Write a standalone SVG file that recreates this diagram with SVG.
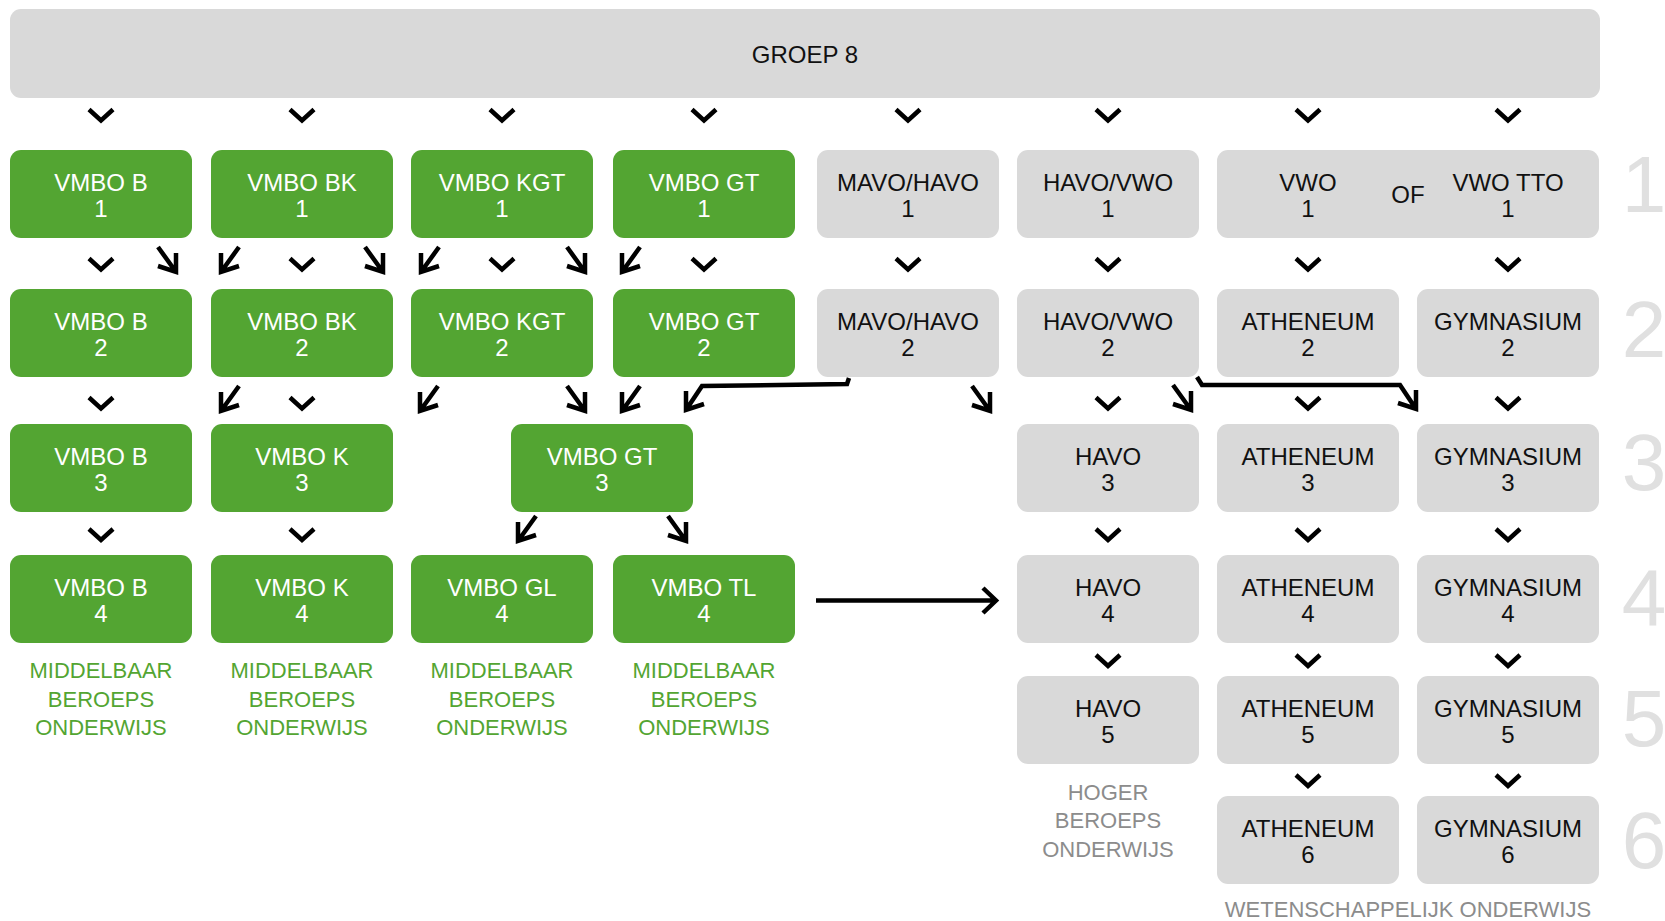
<svg xmlns="http://www.w3.org/2000/svg" xmlns:xlink="http://www.w3.org/1999/xlink" width="1665" height="921" viewBox="0 0 1665 921">
<style>
.g{fill:#53a532}
.n{fill:#d9d9d9}
text{font-family:"Liberation Sans",Arial,sans-serif;text-anchor:middle}
.tw{font-size:24px;fill:#ffffff}
.tb{font-size:24px;fill:#111111}
.lg{font-size:22px;fill:#53a532}
.lh{font-size:22px;fill:#8c8c8c}
.num{font-size:80px;fill:#e0e0e0}
.c{fill:none;stroke:#000;stroke-width:4.5;stroke-linejoin:miter;stroke-linecap:butt}
</style>
<defs>
<path id="chev" d="M-12,-5.5 L0,5.5 L12,-5.5"/>
<path id="ar" d="M-18,-25 L0,0 M0,-19 L0,0 L-18,-6"/>
<path id="al" d="M18,-25 L0,0 M0,-19 L0,0 L18,-6"/>
</defs>
<rect width="1665" height="921" fill="#ffffff"/>

<g id="groep-8"><rect class="n" x="10" y="9" width="1590" height="89" rx="11"/><text class="tb" x="805" y="63">GROEP 8</text></g>

<!-- row 1 -->
<g id="vmbo-b-1"><rect class="g" x="10" y="150" width="182" height="88" rx="11"/><text class="tw" x="101" y="191">VMBO B</text><text class="tw" x="101" y="217">1</text></g>
<g id="vmbo-bk-1"><rect class="g" x="211" y="150" width="182" height="88" rx="11"/><text class="tw" x="302" y="191">VMBO BK</text><text class="tw" x="302" y="217">1</text></g>
<g id="vmbo-kgt-1"><rect class="g" x="411" y="150" width="182" height="88" rx="11"/><text class="tw" x="502" y="191">VMBO KGT</text><text class="tw" x="502" y="217">1</text></g>
<g id="vmbo-gt-1"><rect class="g" x="613" y="150" width="182" height="88" rx="11"/><text class="tw" x="704" y="191">VMBO GT</text><text class="tw" x="704" y="217">1</text></g>
<g id="mavo-havo-1"><rect class="n" x="817" y="150" width="182" height="88" rx="11"/><text class="tb" x="908" y="191">MAVO/HAVO</text><text class="tb" x="908" y="217">1</text></g>
<g id="havo-vwo-1"><rect class="n" x="1017" y="150" width="182" height="88" rx="11"/><text class="tb" x="1108" y="191">HAVO/VWO</text><text class="tb" x="1108" y="217">1</text></g>
<g id="vwo-1"><rect class="n" x="1217" y="150" width="382" height="88" rx="11"/><text class="tb" x="1308" y="191">VWO</text><text class="tb" x="1308" y="217">1</text><text class="tb" x="1408" y="203">OF</text><text class="tb" x="1508" y="191">VWO TTO</text><text class="tb" x="1508" y="217">1</text></g>

<!-- row 2 -->
<g id="vmbo-b-2"><rect class="g" x="10" y="289" width="182" height="88" rx="11"/><text class="tw" x="101" y="330">VMBO B</text><text class="tw" x="101" y="356">2</text></g>
<g id="vmbo-bk-2"><rect class="g" x="211" y="289" width="182" height="88" rx="11"/><text class="tw" x="302" y="330">VMBO BK</text><text class="tw" x="302" y="356">2</text></g>
<g id="vmbo-kgt-2"><rect class="g" x="411" y="289" width="182" height="88" rx="11"/><text class="tw" x="502" y="330">VMBO KGT</text><text class="tw" x="502" y="356">2</text></g>
<g id="vmbo-gt-2"><rect class="g" x="613" y="289" width="182" height="88" rx="11"/><text class="tw" x="704" y="330">VMBO GT</text><text class="tw" x="704" y="356">2</text></g>
<g id="mavo-havo-2"><rect class="n" x="817" y="289" width="182" height="88" rx="11"/><text class="tb" x="908" y="330">MAVO/HAVO</text><text class="tb" x="908" y="356">2</text></g>
<g id="havo-vwo-2"><rect class="n" x="1017" y="289" width="182" height="88" rx="11"/><text class="tb" x="1108" y="330">HAVO/VWO</text><text class="tb" x="1108" y="356">2</text></g>
<g id="atheneum-2"><rect class="n" x="1217" y="289" width="182" height="88" rx="11"/><text class="tb" x="1308" y="330">ATHENEUM</text><text class="tb" x="1308" y="356">2</text></g>
<g id="gymnasium-2"><rect class="n" x="1417" y="289" width="182" height="88" rx="11"/><text class="tb" x="1508" y="330">GYMNASIUM</text><text class="tb" x="1508" y="356">2</text></g>

<!-- row 3 -->
<g id="vmbo-b-3"><rect class="g" x="10" y="424" width="182" height="88" rx="11"/><text class="tw" x="101" y="465">VMBO B</text><text class="tw" x="101" y="491">3</text></g>
<g id="vmbo-k-3"><rect class="g" x="211" y="424" width="182" height="88" rx="11"/><text class="tw" x="302" y="465">VMBO K</text><text class="tw" x="302" y="491">3</text></g>
<g id="vmbo-gt-3"><rect class="g" x="511" y="424" width="182" height="88" rx="11"/><text class="tw" x="602" y="465">VMBO GT</text><text class="tw" x="602" y="491">3</text></g>
<g id="havo-3"><rect class="n" x="1017" y="424" width="182" height="88" rx="11"/><text class="tb" x="1108" y="465">HAVO</text><text class="tb" x="1108" y="491">3</text></g>
<g id="atheneum-3"><rect class="n" x="1217" y="424" width="182" height="88" rx="11"/><text class="tb" x="1308" y="465">ATHENEUM</text><text class="tb" x="1308" y="491">3</text></g>
<g id="gymnasium-3"><rect class="n" x="1417" y="424" width="182" height="88" rx="11"/><text class="tb" x="1508" y="465">GYMNASIUM</text><text class="tb" x="1508" y="491">3</text></g>

<!-- row 4 -->
<g id="vmbo-b-4"><rect class="g" x="10" y="555" width="182" height="88" rx="11"/><text class="tw" x="101" y="596">VMBO B</text><text class="tw" x="101" y="622">4</text></g>
<g id="vmbo-k-4"><rect class="g" x="211" y="555" width="182" height="88" rx="11"/><text class="tw" x="302" y="596">VMBO K</text><text class="tw" x="302" y="622">4</text></g>
<g id="vmbo-gl-4"><rect class="g" x="411" y="555" width="182" height="88" rx="11"/><text class="tw" x="502" y="596">VMBO GL</text><text class="tw" x="502" y="622">4</text></g>
<g id="vmbo-tl-4"><rect class="g" x="613" y="555" width="182" height="88" rx="11"/><text class="tw" x="704" y="596">VMBO TL</text><text class="tw" x="704" y="622">4</text></g>
<g id="havo-4"><rect class="n" x="1017" y="555" width="182" height="88" rx="11"/><text class="tb" x="1108" y="596">HAVO</text><text class="tb" x="1108" y="622">4</text></g>
<g id="atheneum-4"><rect class="n" x="1217" y="555" width="182" height="88" rx="11"/><text class="tb" x="1308" y="596">ATHENEUM</text><text class="tb" x="1308" y="622">4</text></g>
<g id="gymnasium-4"><rect class="n" x="1417" y="555" width="182" height="88" rx="11"/><text class="tb" x="1508" y="596">GYMNASIUM</text><text class="tb" x="1508" y="622">4</text></g>

<!-- row 5 -->
<g id="havo-5"><rect class="n" x="1017" y="676" width="182" height="88" rx="11"/><text class="tb" x="1108" y="717">HAVO</text><text class="tb" x="1108" y="743">5</text></g>
<g id="atheneum-5"><rect class="n" x="1217" y="676" width="182" height="88" rx="11"/><text class="tb" x="1308" y="717">ATHENEUM</text><text class="tb" x="1308" y="743">5</text></g>
<g id="gymnasium-5"><rect class="n" x="1417" y="676" width="182" height="88" rx="11"/><text class="tb" x="1508" y="717">GYMNASIUM</text><text class="tb" x="1508" y="743">5</text></g>

<!-- row 6 -->
<g id="atheneum-6"><rect class="n" x="1217" y="796" width="182" height="88" rx="11"/><text class="tb" x="1308" y="837">ATHENEUM</text><text class="tb" x="1308" y="863">6</text></g>
<g id="gymnasium-6"><rect class="n" x="1417" y="796" width="182" height="88" rx="11"/><text class="tb" x="1508" y="837">GYMNASIUM</text><text class="tb" x="1508" y="863">6</text></g>

<!-- labels -->
<g id="label-mbo">
<text class="lg" x="101" y="678">MIDDELBAAR</text><text class="lg" x="101" y="707">BEROEPS</text><text class="lg" x="101" y="735">ONDERWIJS</text>
<text class="lg" x="302" y="678">MIDDELBAAR</text><text class="lg" x="302" y="707">BEROEPS</text><text class="lg" x="302" y="735">ONDERWIJS</text>
<text class="lg" x="502" y="678">MIDDELBAAR</text><text class="lg" x="502" y="707">BEROEPS</text><text class="lg" x="502" y="735">ONDERWIJS</text>
<text class="lg" x="704" y="678">MIDDELBAAR</text><text class="lg" x="704" y="707">BEROEPS</text><text class="lg" x="704" y="735">ONDERWIJS</text>
</g>
<g id="label-hbo"><text class="lh" x="1108" y="800">HOGER</text><text class="lh" x="1108" y="828">BEROEPS</text><text class="lh" x="1108" y="857">ONDERWIJS</text></g>
<g id="label-wo"><text class="lh" x="1408" y="917">WETENSCHAPPELIJK ONDERWIJS</text></g>

<!-- row numbers -->
<g id="row-numbers">
<text class="num" x="1644" y="212">1</text>
<text class="num" x="1644" y="357">2</text>
<text class="num" x="1644" y="490">3</text>
<text class="num" x="1644" y="625">4</text>
<text class="num" x="1644" y="746">5</text>
<text class="num" x="1644" y="868">6</text>
</g>

<!-- connectors -->
<g id="connectors" class="c">
<use xlink:href="#chev" x="101" y="115"/><use xlink:href="#chev" x="302" y="115"/><use xlink:href="#chev" x="502" y="115"/><use xlink:href="#chev" x="704" y="115"/>
<use xlink:href="#chev" x="908" y="115"/><use xlink:href="#chev" x="1108" y="115"/><use xlink:href="#chev" x="1308" y="115"/><use xlink:href="#chev" x="1508" y="115"/>

<use xlink:href="#chev" x="101" y="264"/><use xlink:href="#chev" x="302" y="264"/><use xlink:href="#chev" x="502" y="264"/><use xlink:href="#chev" x="704" y="264"/>
<use xlink:href="#chev" x="908" y="264"/><use xlink:href="#chev" x="1108" y="264"/><use xlink:href="#chev" x="1308" y="264"/><use xlink:href="#chev" x="1508" y="264"/>
<use xlink:href="#ar" x="176" y="272"/><use xlink:href="#al" x="221" y="272"/>
<use xlink:href="#ar" x="383" y="272"/><use xlink:href="#al" x="421" y="272"/>
<use xlink:href="#ar" x="585" y="272"/><use xlink:href="#al" x="622" y="272"/>

<use xlink:href="#chev" x="101" y="403"/><use xlink:href="#chev" x="302" y="403"/>
<use xlink:href="#chev" x="1108" y="403"/><use xlink:href="#chev" x="1308" y="403"/><use xlink:href="#chev" x="1508" y="403"/>
<use xlink:href="#al" x="221" y="411"/><use xlink:href="#al" x="420" y="411"/>
<use xlink:href="#ar" x="585" y="411"/><use xlink:href="#al" x="622" y="411"/>
<use xlink:href="#ar" x="990" y="411"/><use xlink:href="#ar" x="1191" y="410"/>
<path d="M849,378 L847,384 L702,386 L686,410 M686,391 L686,410 L704,404"/>
<path d="M1197,377 L1202,385 L1400,385 L1416,409 M1416,390 L1416,409 L1398,403"/>

<use xlink:href="#chev" x="101" y="534.5"/><use xlink:href="#chev" x="302" y="534.5"/>
<use xlink:href="#chev" x="1108" y="534.5"/><use xlink:href="#chev" x="1308" y="534.5"/><use xlink:href="#chev" x="1508" y="534.5"/>
<use xlink:href="#al" x="518" y="541"/><use xlink:href="#ar" x="686" y="541"/>

<path d="M816,600.5 L996,600.5 M983,588 L996,600.5 L983,613"/>

<use xlink:href="#chev" x="1108" y="660.5"/><use xlink:href="#chev" x="1308" y="660.5"/><use xlink:href="#chev" x="1508" y="660.5"/>
<use xlink:href="#chev" x="1308" y="780.5"/><use xlink:href="#chev" x="1508" y="780.5"/>
</g>
</svg>
